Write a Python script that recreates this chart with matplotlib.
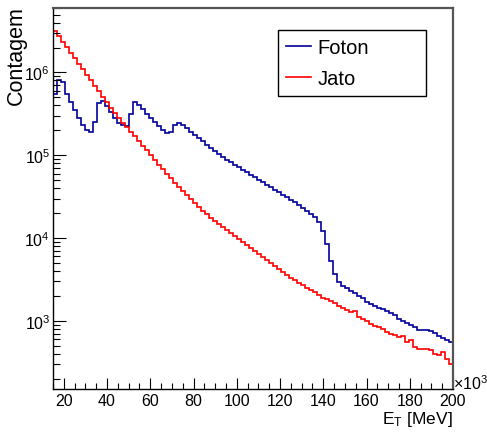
import numpy as np
import matplotlib
matplotlib.use('Agg')
import matplotlib.pyplot as plt
from matplotlib.ticker import LogLocator, FuncFormatter, MultipleLocator, NullFormatter

plt.rcParams['font.family'] = ['Liberation Sans', 'DejaVu Sans']
plt.rcParams['mathtext.fontset'] = 'custom'
plt.rcParams['mathtext.rm'] = 'Liberation Sans'
plt.rcParams['mathtext.default'] = 'regular'

# histogram: 100 bins from 15 to 200 (x10^3 MeV)
x_min, x_max, n_bins = 15, 200, 100

foton = [
    5.53e5, 8.0e5, 7.65e5, 5.53e5, 4.42e5, 3.54e5, 2.83e5, 2.33e5, 2.03e5, 1.93e5,
    2.53e5, 4.30e5, 4.46e5, 3.96e5, 3.35e5, 2.83e5, 2.46e5, 2.33e5, 2.27e5, 3.17e5,
    4.39e5, 4.07e5, 3.57e5, 3.17e5, 2.83e5, 2.53e5, 2.27e5, 2.03e5, 1.87e5, 1.93e5,
    2.29e5, 2.44e5, 2.33e5, 2.14e5, 1.93e5, 1.76e5, 1.61e5, 1.47e5, 1.34e5, 1.23e5,
    1.13e5, 1.04e5, 9.56e4, 8.80e4, 8.21e4, 7.65e4, 7.14e4, 6.66e4, 6.21e4, 5.79e4,
    5.40e4, 5.04e4, 4.70e4, 4.39e4, 4.09e4, 3.82e4, 3.56e4, 3.32e4, 3.10e4, 2.89e4,
    2.69e4, 2.48e4, 2.28e4, 2.13e4, 1.96e4, 1.78e4, 1.57e4, 1.23e4, 8.48e3, 5.33e3,
    3.68e3, 2.94e3, 2.64e3, 2.46e3, 2.29e3, 2.17e3, 2.02e3, 1.89e3, 1.69e3, 1.60e3,
    1.51e3, 1.43e3, 1.37e3, 1.30e3, 1.23e3, 1.16e3, 1.05e3, 994, 940, 889,
    830, 774, 774, 774, 753, 712, 664, 628, 586, 547,
]

jato = [
    3.19e6, 2.74e6, 2.35e6, 2.02e6, 1.73e6, 1.48e6, 1.27e6, 1.09e6, 9.38e5, 8.05e5,
    6.91e5, 5.93e5, 5.08e5, 4.36e5, 3.74e5, 3.26e5, 2.83e5, 2.46e5, 2.17e5, 1.92e5,
    1.69e5, 1.49e5, 1.30e5, 1.15e5, 1.01e5, 8.80e4, 7.65e4, 6.75e4, 5.96e4, 5.33e4,
    4.64e4, 4.15e4, 3.66e4, 3.27e4, 2.93e4, 2.62e4, 2.38e4, 2.13e4, 1.93e4, 1.75e4,
    1.59e4, 1.46e4, 1.34e4, 1.24e4, 1.14e4, 1.05e4, 9.62e3, 8.85e3, 8.14e3, 7.49e3,
    6.98e3, 6.42e3, 5.91e3, 5.44e3, 5.00e3, 4.60e3, 4.23e3, 3.89e3, 3.58e3, 3.29e3,
    3.07e3, 2.86e3, 2.67e3, 2.49e3, 2.36e3, 2.20e3, 2.05e3, 1.91e3, 1.81e3, 1.71e3,
    1.62e3, 1.51e3, 1.43e3, 1.35e3, 1.28e3, 1.31e3, 1.11e3, 1.05e3, 994, 927,
    877, 830, 785, 742, 702, 673, 637, 655, 554, 578,
    482, 462, 456, 450, 444, 397, 391, 414, 345, 300,
]

edges = np.linspace(x_min, x_max, n_bins + 1)

fig = plt.figure(figsize=(4.87, 4.35), dpi=100)
ax = fig.add_axes([53/487, 45/435, 400/487, 381/435])

ax.stairs(foton, edges, color='#000099', lw=1.2, label='Foton')
ax.stairs(jato, edges, color='#ff0000', lw=1.2, label='Jato')

ax.set_yscale('log')
ax.set_xlim(x_min, x_max)
ax.set_ylim(150, 6e6)

ax.xaxis.set_major_locator(MultipleLocator(20))
ax.xaxis.set_minor_locator(MultipleLocator(5))
ax.yaxis.set_major_locator(LogLocator(base=10))
ax.yaxis.set_minor_locator(LogLocator(base=10, subs=np.arange(2, 10)))
ax.yaxis.set_minor_formatter(NullFormatter())
ax.yaxis.set_major_formatter(FuncFormatter(lambda v, p: '$10^{%d}$' % round(np.log10(v))))

ax.tick_params(axis='both', which='both', direction='in', top=False, right=False,
               labelsize=11.5, width=0.8, color='black')
ax.tick_params(axis='y', which='major', length=9, pad=2)
ax.tick_params(axis='y', which='minor', length=4.8)
ax.tick_params(axis='x', which='major', length=7.7, pad=3)
ax.tick_params(axis='x', which='minor', length=4)

for s in ['left', 'bottom']:
    ax.spines[s].set_color('black')
    ax.spines[s].set_linewidth(1.0)
for s in ['top', 'right']:
    ax.spines[s].set_color('#555555')
    ax.spines[s].set_linewidth(1.6)

ax.set_xlabel('E$_{T}$ [MeV]', loc='right', fontsize=12.5)
ax.xaxis.set_label_coords(1.0, -0.052)
fig.text(16/487, 1 - 6/435, 'Contagem', rotation=90, ha='center', va='top', fontsize=15.5)
ax.text(1.0, 0.0, '×10$^{3}$', transform=ax.transAxes, ha='left', va='baseline', fontsize=11.5)

leg = ax.legend(loc='lower left', bbox_to_anchor=(0.5625, 0.769, 0.37, 0.1785), mode='expand',
                borderaxespad=0, fancybox=False, edgecolor='black', framealpha=1,
                fontsize=14.5, handlelength=1.25, handletextpad=0.3, labelspacing=0.6,
                borderpad=0.4)
leg.get_frame().set_linewidth(1.0)

plt.savefig('out.png', dpi=100)
